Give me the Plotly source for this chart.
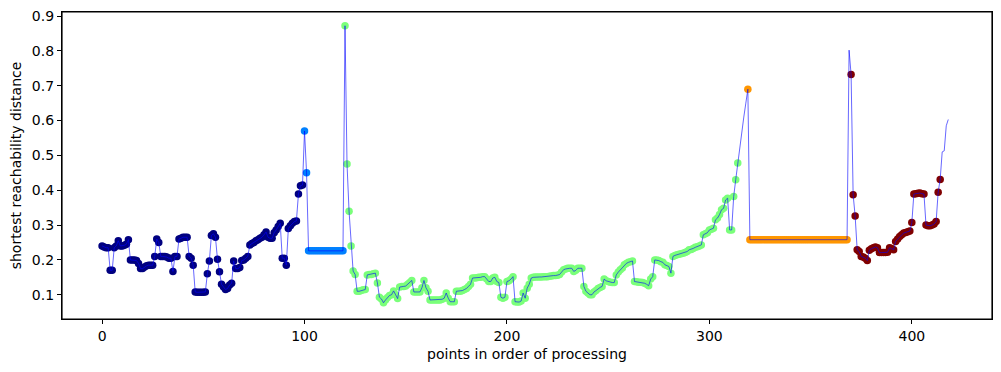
import plotly.graph_objects as go

# Reachability distances, segment by segment (in processing order)
navy_vals = [
    0.240, 0.237, 0.235, 0.235, 0.170, 0.170, 0.235, 0.240, 0.255, 0.240,
    0.240, 0.242, 0.245, 0.258, 0.200, 0.200, 0.200, 0.198, 0.190, 0.175,
    0.175, 0.180, 0.183, 0.185, 0.185, 0.185, 0.210, 0.260, 0.250, 0.210,
    0.210, 0.210, 0.208, 0.205, 0.205, 0.167, 0.210, 0.210, 0.260, 0.262,
    0.265, 0.265, 0.265, 0.210, 0.205, 0.185, 0.108, 0.107, 0.107, 0.107,
    0.107, 0.108, 0.160, 0.197, 0.270, 0.275, 0.265, 0.202, 0.166, 0.130,
    0.122, 0.115, 0.118, 0.128, 0.133, 0.197, 0.175, 0.175, 0.178, 0.198,
    0.200, 0.205, 0.210, 0.243, 0.247, 0.250, 0.255, 0.258, 0.262, 0.265,
    0.272, 0.280, 0.265, 0.262, 0.262, 0.278, 0.286, 0.296, 0.305, 0.205,
    0.205, 0.185, 0.290, 0.298, 0.305, 0.310, 0.312, 0.389, 0.413, 0.415,
]
lightblue_vals = [0.570, 0.450] + [0.226] * 18
green_vals = [
    0.872, 0.475, 0.340, 0.240, 0.168, 0.158, 0.110, 0.110, 0.112, 0.114,
    0.115, 0.157, 0.158, 0.158, 0.160, 0.162, 0.134, 0.093, 0.088, 0.077,
    0.085, 0.092, 0.098, 0.100, 0.111, 0.100, 0.089, 0.122, 0.124, 0.124,
    0.125, 0.130, 0.135, 0.141, 0.108, 0.108, 0.108, 0.108, 0.120, 0.141,
    0.120, 0.110, 0.085, 0.085, 0.085, 0.085, 0.085, 0.085, 0.087, 0.090,
    0.105, 0.090, 0.080, 0.080, 0.080, 0.110, 0.110, 0.110, 0.112, 0.115,
    0.118, 0.124, 0.130, 0.148, 0.148, 0.149, 0.150, 0.150, 0.152, 0.152,
    0.145, 0.138, 0.138, 0.148, 0.150, 0.138, 0.135, 0.093, 0.090, 0.093,
    0.138, 0.140, 0.145, 0.152, 0.080, 0.079, 0.079, 0.082, 0.105, 0.090,
    0.119, 0.130, 0.148, 0.150, 0.151, 0.151, 0.151, 0.151, 0.152, 0.152,
    0.152, 0.153, 0.154, 0.155, 0.155, 0.156, 0.158, 0.165, 0.172, 0.174,
    0.176, 0.176, 0.176, 0.167, 0.170, 0.176, 0.176, 0.176, 0.124, 0.110,
    0.105, 0.100, 0.100, 0.108, 0.112, 0.118, 0.121, 0.124, 0.145, 0.140,
    0.138, 0.136, 0.135, 0.135, 0.157, 0.165, 0.172, 0.177, 0.186, 0.190,
    0.193, 0.195, 0.197, 0.138, 0.137, 0.136, 0.136, 0.135, 0.133, 0.130,
    0.126, 0.145, 0.152, 0.200, 0.200, 0.198, 0.195, 0.193, 0.186, 0.184,
    0.181, 0.162, 0.210, 0.213, 0.215, 0.216, 0.218, 0.219, 0.221, 0.224,
    0.229, 0.230, 0.233, 0.236, 0.238, 0.240, 0.243, 0.272, 0.275, 0.278,
    0.286, 0.288, 0.291, 0.315, 0.320, 0.330, 0.344, 0.348, 0.372, 0.377,
    0.286, 0.286, 0.382, 0.430, 0.478,
]
noise_a_vals = [0.520, 0.565, 0.610, 0.650]
orange_vals = [0.690] + [0.258] * 49
noise_b_vals = [0.802]
red_vals = [
    0.732, 0.387, 0.326, 0.229, 0.224, 0.210, 0.208, 0.205, 0.198, 0.228,
    0.232, 0.235, 0.237, 0.235, 0.221, 0.221, 0.221, 0.221, 0.222, 0.235,
    0.233, 0.229, 0.253, 0.260, 0.267, 0.272, 0.277, 0.279, 0.281, 0.283,
    0.307, 0.389, 0.390, 0.391, 0.392, 0.390, 0.389, 0.300, 0.298, 0.298,
    0.300, 0.303, 0.310, 0.394, 0.431,
]
noise_c_vals = [0.510, 0.513, 0.585, 0.603]

x_ticks = [0, 100, 200, 300, 400]
y_ticks = [0.1, 0.2, 0.3, 0.4, 0.5, 0.6, 0.7, 0.8, 0.9]

segments = [
    (navy_vals, "#000080"),
    (lightblue_vals, "#0080ff"),
    (green_vals, "#7aff7a"),
    (noise_a_vals, None),
    (orange_vals, "#ff9600"),
    (noise_b_vals, None),
    (red_vals, "#800000"),
    (noise_c_vals, None),
]

reach = []
fig = go.Figure()
start = 0
for vals, color in segments:
    xs = list(range(start, start + len(vals)))
    if color is not None:
        fig.add_trace(go.Scatter(
            x=xs, y=vals, mode="markers",
            marker=dict(color=color, size=7.5, line=dict(width=0)),
            showlegend=False, hoverinfo="skip"))
    reach.extend(vals)
    start += len(vals)

fig.add_trace(go.Scatter(
    x=list(range(len(reach))), y=reach, mode="lines",
    line=dict(color="rgba(0,0,255,0.75)", width=0.8),
    showlegend=False))

axis_common = dict(
    showline=True, mirror=True, linecolor="black", linewidth=1.2,
    ticks="outside", ticklen=4, tickwidth=1, tickcolor="black",
    showgrid=False, zeroline=False, automargin=False,
    ticklabeloverflow="allow",
    tickfont=dict(family="DejaVu Sans", size=14, color="black"),
)

# page body has an 8px default margin, so the figure is sized to fit inside
fig.update_layout(
    width=993, height=364,
    margin=dict(l=54, r=9, t=4, b=53),
    paper_bgcolor="white", plot_bgcolor="white",
    font=dict(family="DejaVu Sans", size=14, color="black"),
    xaxis=dict(range=[-19.8, 439.6], tickvals=x_ticks,
               title=dict(text="points in order of processing", standoff=6,
                          font=dict(size=14)),
               **axis_common),
    yaxis=dict(range=[0.0304, 0.9115], tickvals=y_ticks, tickformat=".1f",
               title=dict(text="shortest reachability distance", standoff=8,
                          font=dict(size=14)),
               **axis_common),
    shapes=[dict(type="rect", xref="paper", yref="paper", x0=0, x1=1,
                 y0=0, y1=1, line=dict(color="black", width=1.2),
                 fillcolor="rgba(0,0,0,0)", layer="above")],
)

fig.write_html("out.html")
